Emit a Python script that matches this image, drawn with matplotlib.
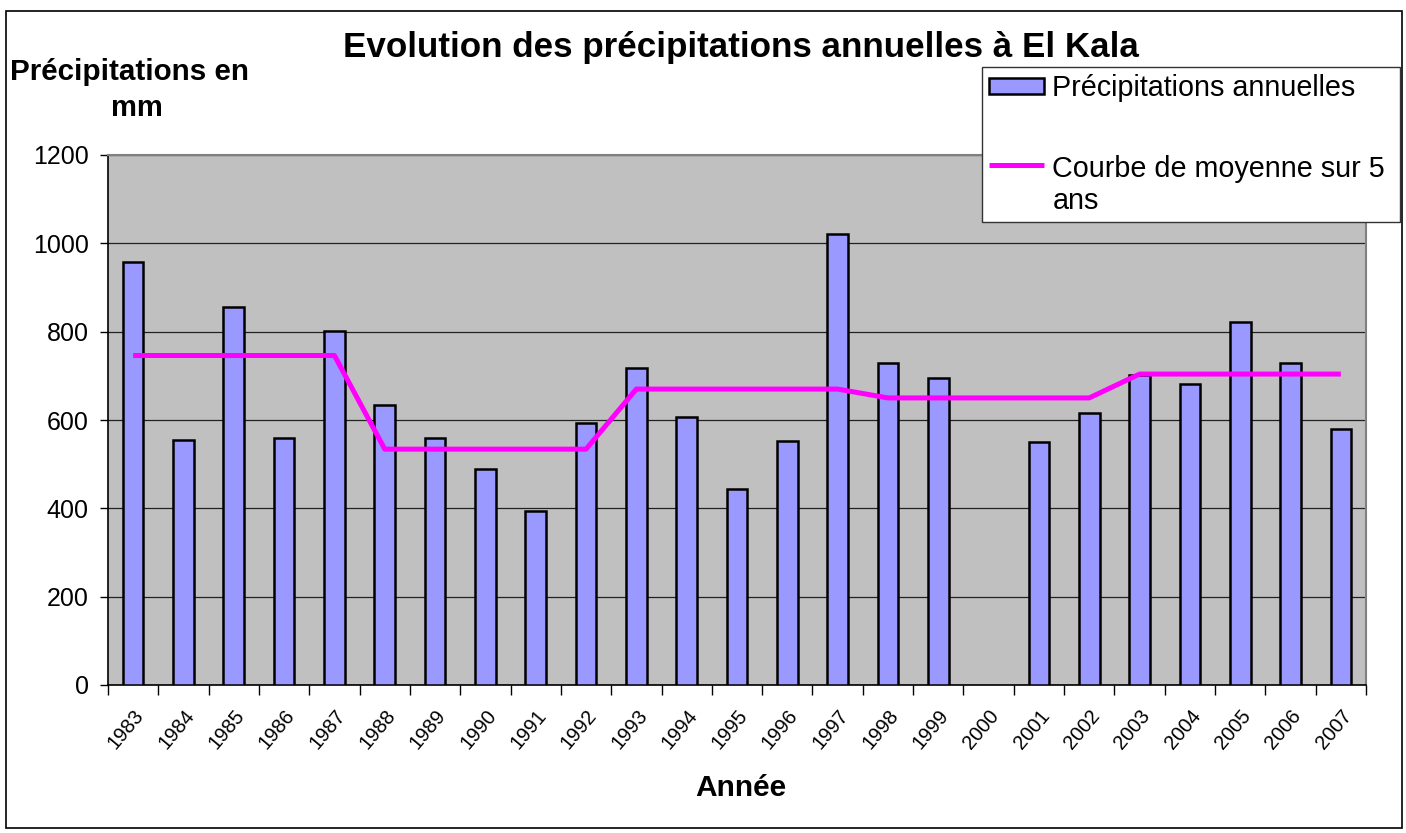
import matplotlib
matplotlib.use("Agg")
import matplotlib.pyplot as plt
import numpy as np

plt.rcParams['font.family'] = ['Liberation Sans', 'DejaVu Sans']

years = [str(y) for y in range(1983, 2008)]

# precipitations annuelles (mm), 2000 missing
precip = [957, 555, 855, 560, 802, 633, 559, 490, 393, 593,
          717, 606, 444, 553, 1021, 730, 695, np.nan, 551, 615,
          702, 682, 822, 728, 580]

# moyenne sur 5 ans
moyenne = [746, 746, 746, 746, 746, 534, 534, 534, 534, 534,
           670, 670, 670, 670, 670, 650, 650, 650, 650, 650,
           704, 704, 704, 704, 704]

W, H = 1406, 833
fig = plt.figure(figsize=(W / 100, H / 100), dpi=100)

# outer chart border
fig.patches.append(plt.Rectangle((6 / W, 5 / H), 1396 / W, 817 / H,
                                 transform=fig.transFigure, fill=False,
                                 edgecolor='black', linewidth=1.2))

ax = fig.add_axes([108 / W, 1 - 685 / H, 1258 / W, 530 / H])
ax.set_facecolor('#C0C0C0')

x = np.arange(len(years))
bars = ax.bar(x, precip, width=0.41, color='#9999FF', edgecolor='black',
              linewidth=1.8, zorder=3, label='Précipitations annuelles')
line, = ax.plot(x, moyenne, color='#FF00FF', linewidth=3.6, zorder=4,
                solid_capstyle='butt', label='Courbe de moyenne sur 5\nans')

ax.set_xlim(-0.5, len(years) - 0.5)
ax.set_ylim(0, 1200)
ax.set_yticks(range(0, 1201, 200))
ax.yaxis.grid(True, color='#222222', linewidth=0.9, zorder=1)
ax.set_axisbelow(True)

# ticks at category boundaries, labels at centres
ax.set_xticks(np.arange(-0.5, len(years), 1.0))
ax.set_xticklabels([])
ax.set_xticks(x, minor=True)
ax.set_xticklabels(years, minor=True, rotation=50, ha='right', va='top',
                   rotation_mode='anchor', fontsize=14.5)
ax.tick_params(axis='x', which='major', length=7, width=1, color='black')
ax.tick_params(axis='x', which='minor', length=0, pad=15)
ax.tick_params(axis='y', length=6, width=1, labelsize=18, pad=8)

for s in ['top', 'right']:
    ax.spines[s].set_color('#808080')
    ax.spines[s].set_linewidth(1.5)
for s in ['left', 'bottom']:
    ax.spines[s].set_color('black')
    ax.spines[s].set_linewidth(1.2)

fig.text(741 / W, 1 - 47 / H, 'Evolution des précipitations annuelles à El Kala',
         ha='center', va='center', fontsize=25.2, fontweight='bold')
fig.text(129 / W, 1 - 72 / H, 'Précipitations en', ha='center', va='center',
         fontsize=21.3, fontweight='bold')
fig.text(137 / W, 1 - 108 / H, 'mm', ha='center', va='center',
         fontsize=21, fontweight='bold')
fig.text(741 / W, 1 - 788 / H, 'Année', ha='center', va='center',
         fontsize=21.5, fontweight='bold')

leg = fig.legend(handles=[bars, line], loc='upper left',
                 bbox_to_anchor=(982 / W, 1 - 75 / H, 418 / W, 8 / H),
                 mode='expand', borderaxespad=0, fontsize=20.7,
                 frameon=True, fancybox=False, framealpha=1,
                 edgecolor='#333333', handlelength=1.9, handleheight=0.5,
                 handletextpad=0.3, labelspacing=1.85, borderpad=0.25)
leg.get_frame().set_linewidth(1.0)
for t in leg.get_texts():
    t.set_linespacing(1.15)

# keep the line handle level with the first line of its label
lh = leg.legend_handles[1]
yd = np.asarray(lh.get_ydata(), dtype=float)
lh.set_ydata(yd + 16)

fig.savefig('out.png', dpi=100)
